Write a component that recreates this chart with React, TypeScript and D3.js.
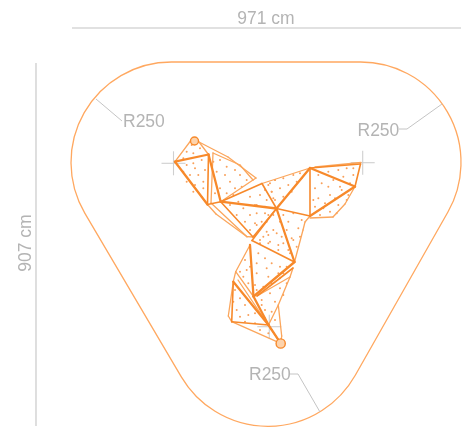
import React from "react";
import * as d3 from "d3";

const W = 466, H = 427;
// Outline: corner-circle centres in cm, radius in cm
const cornerCentres: [number, number][] = [[250, 250], [721, 250], [490, 657]];
const cornerRadius = 250;
const radiusLabels = ["R250", "R250", "R250"];
const widthLabel = "971 cm", heightLabel = "907 cm";

const nodes: Record<string, [number, number]> = {
  A: [192, 139], A2: [199, 142], B: [175, 161.7], C: [208.5, 154.5], C2: [213, 153], D: [207.5, 204.5], D1: [211, 203], E: [220.7, 201.7],
  F: [256, 178], F2: [253, 180], F3: [240, 165], F4: [228, 157], J: [262, 183.5], H: [276.5, 208.5], H2: [279, 211], I: [247, 236.7], I2: [253, 237],
  K: [310, 168], K2: [315, 167], L: [360.5, 164], L2: [361, 162.5], M: [355, 186.5], N: [310, 216], O: [333, 217], O2: [345, 204], O3: [310, 218],
  P: [305, 222], P2: [303, 230], Q: [294.5, 262], R: [252, 240.5], S: [250, 245], U: [253.5, 296.5], U2: [257, 296], V: [235.7, 271.7],
  W: [233.3, 281.7], X: [228.3, 316], Y: [231.7, 321.7], Z: [268.5, 325], Ring: [280.7, 343.3],
  T1: [293, 268], T2: [290, 277], T3: [278.3, 305], T4: [281.7, 336], D2: [216, 214], D3: [247, 237], W2: [238, 280],
};
const heavyEdges = [["B","C"],["C","E"],["B","D"],["E","H"],["H","K"],["K","M"],["M","N"],["H","Q"],["S","U"],["Q","U"],["W","Z"],["U","Z"],["Z","Ring"]];
const mediumEdges = [["E","I2"],["I2","H"],["J","H"],["J","E"],["K","N"],["H","N"],["H","R"],["R","Q"],["W","Y"],["Y","Z"],["D","E"],["C","D"],["L","M"],["K","L"],["T1","U2"]];
const lightEdges = [["B","A"],["A2","C"],["A2","F4"],["F4","F"],["F","F2"],["C2","F3"],["F3","F2"],["F2","E"],["J","K"],["K2","L2"],["M","O2"],["O2","O"],["O","O3"],["N","P"],["P","P2"],["P2","Q"],["T1","T2"],["T2","U2"],["T2","T3"],["T3","T4"],["T4","Ring"],["T3","Z"],["S","V"],["V","W"],["W","X"],["X","Y"],["Y","Ring"],["W2","Ring"],["V","U"],["D1","C2"],["D","D2"],["D1","I"],["D2","I"],["I","I2"]];

// dots (crop units, 3x)
const dotsA: [number, number][] = [[125,60],[150,70],[110,80],[130,85],[100,100],[130,115],[110,120],[100,140],[135,130],[155,105],[120,150],[145,150],[110,170],[160,170],[135,180],[160,190],[130,200],[155,215],[165,135],[190,110],[210,105],[230,125],[200,140],[255,135],[225,150],[270,150],[195,165],[240,170],[290,165],[210,190],[255,190],[275,185],[230,205],[250,210],[195,205],[240,240],[265,230],[300,215],[330,210],[280,250],[320,240],[350,225],[260,270],[300,270],[345,265],[285,290],[320,300],[350,290],[300,315],[370,270],[360,175],[375,165],[345,195],[365,200],[375,225]];
const dotsB: [number, number][] = [[55,105],[75,90],[100,85],[130,75],[150,70],[65,125],[90,115],[115,105],[140,95],[155,85],[70,145],[100,140],[125,125],[205,75],[235,65],[265,60],[290,55],[310,55],[310,75],[280,80],[250,90],[215,100],[195,115],[235,110],[270,110],[300,100],[205,145],[240,135],[275,120],[195,170],[225,160],[255,145],[190,150],[210,195],[240,185],[265,165],[290,150],[220,175],[260,190],[295,135],[100,195],[130,190],[155,210],[115,215],[145,235],[110,240],[90,215],[80,250],[125,265],[150,260],[100,280],[140,290],[70,240],[50,245],[40,260],[60,275],[30,280],[85,300],[120,310],[15,165],[20,190],[45,170],[35,215],[55,195],[15,220]];
const dotsC: [number, number][] = [[130,70],[150,85],[170,100],[195,110],[125,100],[155,115],[190,130],[215,110],[125,130],[160,140],[195,145],[120,165],[145,170],[170,160],[125,180],[205,130],[90,90],[75,125],[95,120],[85,140],[100,160],[105,110],[135,30],[160,40],[190,45],[220,60],[160,15],[200,20],[235,30],[140,210],[165,190],[195,175],[215,160],[150,240],[180,215],[170,245],[205,195],[60,180],[75,205],[55,215],[90,225],[65,240],[100,255],[75,260],[120,250],[120,280],[90,275],[135,300],[160,310],[150,265],[180,270],[170,300],[140,225]];

const crossMarks: [number, number][] = [[173.5, 163.3], [362.7, 162.7], [269.3, 326.7]];
const rings: [number, number, number][] = [[194.5, 141, 4], [280.7, 343.5, 4.6]];

const cx = d3.scaleLinear().domain([0, 971]).range([71, 461]);
const cy = d3.scaleLinear().domain([0, 907]).range([62, 426.3]);
const kx = 390 / 971;

function outlinePath() {
  const pts = cornerCentres.map(([x, y]) => [cx(x), cy(y)]);
  const r = cornerRadius * kx;
  let d = "";
  pts.forEach((p, i) => {
    const q = pts[(i + 1) % 3];
    const dx = q[0] - p[0], dy = q[1] - p[1], l = Math.hypot(dx, dy);
    const nx = dy / l, ny = -dx / l;
    const a = [p[0] + nx * r, p[1] + ny * r], b = [q[0] + nx * r, q[1] + ny * r];
    d += (i === 0 ? `M${a[0]},${a[1]}` : `A${r},${r} 0 0 1 ${a[0]},${a[1]}`) + `L${b[0]},${b[1]}`;
  });
  const p = pts[0], q = pts[1];
  const dx = q[0] - p[0], dy = q[1] - p[1], l = Math.hypot(dx, dy);
  d += `A${r},${r} 0 0 1 ${p[0] + dy / l * r},${p[1] - dx / l * r}Z`;
  return d;
}

const ORANGE = "#F7892B", LIGHT = "#FBA65C", GREY = "#C4C4C4";
const textStyle = { fontFamily: "Liberation Sans", fontSize: 17.5, fill: "#B4B4B4" };
const line = d3.line();
const leaders: [number, number][][] = [
  [[96, 99], [122, 121]],
  [[442, 104], [407, 129], [399, 129]],
  [[290, 374], [298, 374], [320, 412]],
];

export default function App() {
  const sx = (lo: number) => d3.scaleLinear().domain([0, 3]).range([lo, lo + 1]);
  const all: [number, number][] = [
    ...dotsA.map(([x, y]) => [sx(150)(x), sx(125)(y)] as [number, number]),
    ...dotsB.map(([x, y]) => [sx(250)(x), sx(150)(y)] as [number, number]),
    ...dotsC.map(([x, y]) => [sx(215)(x), sx(230)(y)] as [number, number]),
  ];
  const edge = (e: string[], w: number, c: string, k: string) => (
    <path key={k + e.join()} d={line([nodes[e[0]], nodes[e[1]]])!} stroke={c} strokeWidth={w} fill="none" strokeLinecap="round" />
  );
  return (
    <svg width={W} height={H} style={{ position: "absolute", left: 0, top: 0 }}>
      <defs><filter id="soft" x="-5%" y="-5%" width="110%" height="110%"><feGaussianBlur stdDeviation="0.35" /></filter></defs>
      <rect width={W} height={H} fill="#fff" />
      <g filter="url(#soft)">
        <path d={outlinePath()} fill="none" stroke="#FFA860" strokeWidth={1.3} />
        <line x1={72} x2={461} y1={28} y2={28} stroke={GREY} strokeWidth={1.1} />
        <line x1={36} x2={36} y1={63} y2={426} stroke={GREY} strokeWidth={1.1} />
        {leaders.map((l, i) => <path key={i} d={line(l)!} fill="none" stroke={GREY} strokeWidth={1} />)}
        {crossMarks.map(([x, y], i) => (
          <g key={i} stroke="#CFCFCF" strokeWidth={1.1}>
            <line x1={x - 12} x2={x + 12} y1={y} y2={y} />
            <line x1={x} x2={x} y1={y - 12} y2={y + 12} />
          </g>
        ))}
        {all.map(([x, y], i) => <circle key={i} cx={x} cy={y} r={1} fill="#F9A05A" />)}
        {lightEdges.map((e) => edge(e, 1.3, LIGHT, "l"))}
        {mediumEdges.map((e) => edge(e, 1.6, ORANGE, "m"))}
        {heavyEdges.map((e) => edge(e, 2.3, ORANGE, "h"))}
        {rings.map(([x, y, r], i) => <circle key={i} cx={x} cy={y} r={r} fill="#FDD3AC" stroke={ORANGE} strokeWidth={1.4} />)}
        <text x={266} y={24} textAnchor="middle" style={textStyle}>{widthLabel}</text>
        <text transform="translate(31,243) rotate(-90)" textAnchor="middle" style={textStyle}>{heightLabel}</text>
        <text x={123} y={127} style={textStyle}>{radiusLabels[0]}</text>
        <text x={357.5} y={136} style={textStyle}>{radiusLabels[1]}</text>
        <text x={249} y={380} style={textStyle}>{radiusLabels[2]}</text>
      </g>
    </svg>
  );
}
